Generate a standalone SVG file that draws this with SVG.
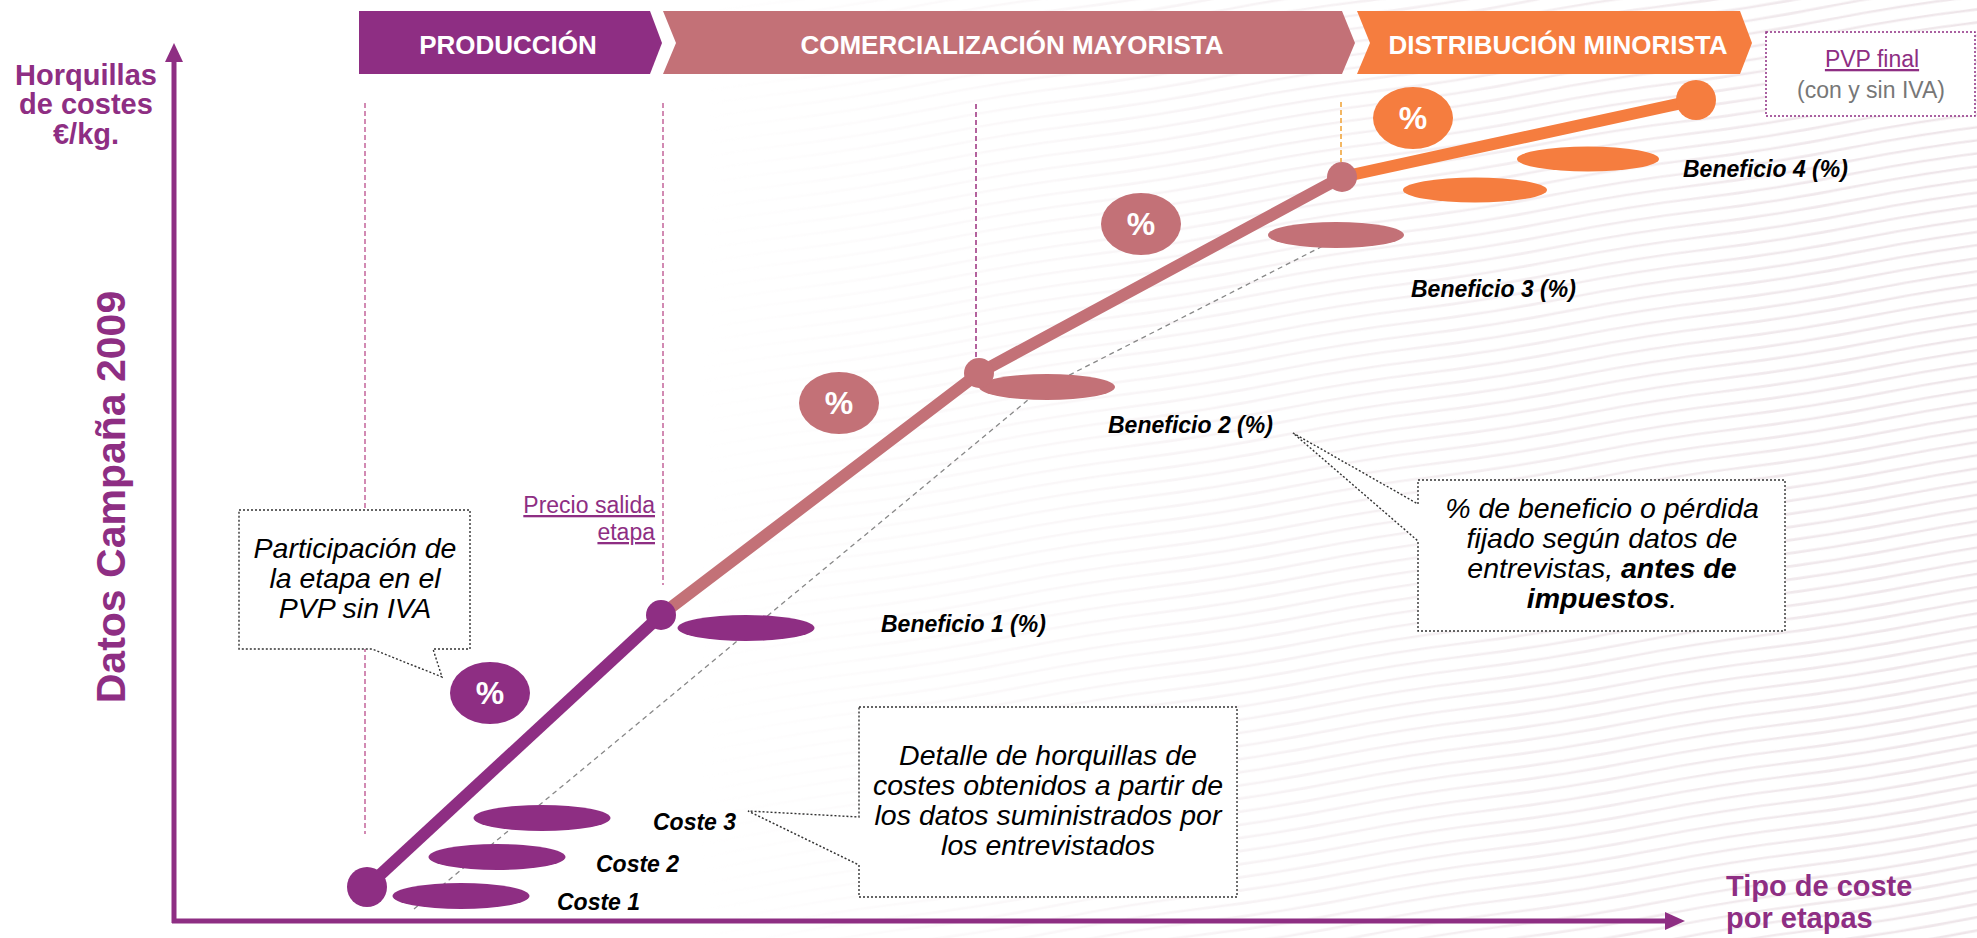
<svg xmlns="http://www.w3.org/2000/svg" width="1977" height="938" viewBox="0 0 1977 938">
<defs>
<style>
.f{font-family:"Liberation Sans",Arial,sans-serif}
.ban{font-family:"Liberation Sans",Arial,sans-serif;font-weight:bold;font-size:26px;fill:#fff;text-anchor:middle}
.pct{font-family:"Liberation Sans",Arial,sans-serif;font-weight:bold;font-size:32px;fill:#fff;text-anchor:middle}
.lbl{font-family:"Liberation Sans",Arial,sans-serif;font-weight:bold;font-style:italic;font-size:23px;fill:#000}
.call{font-family:"Liberation Sans",Arial,sans-serif;font-style:italic;font-size:28.5px;fill:#000;text-anchor:middle}
.callbox{fill:#fff;stroke:#333;stroke-width:1.4;stroke-dasharray:2 2}
.axis{font-family:"Liberation Sans",Arial,sans-serif;font-weight:bold;fill:#8E2E83}
.guide{fill:none;stroke:#C4649A;stroke-width:1.5;stroke-dasharray:5 3}
.pur{fill:#8E2E83}
.pnk{fill:#C37177}
.org{fill:#F57D3F}
</style>
<pattern id="waves" width="300" height="13" patternUnits="userSpaceOnUse" patternTransform="rotate(-9)">
<path d="M0,6.5 Q75,3.5 150,6.5 T300,6.5" fill="none" stroke="#EEE5E9" stroke-width="2.5"/>
</pattern>
<linearGradient id="fade" x1="0" y1="0" x2="1" y2="0">
<stop offset="0" stop-color="#fff" stop-opacity="0"/>
<stop offset="0.5" stop-color="#fff" stop-opacity="0.55"/>
<stop offset="1" stop-color="#fff" stop-opacity="1"/>
</linearGradient>
<mask id="m"><rect x="700" y="0" width="1277" height="938" fill="url(#fade)"/></mask>
</defs>
<rect width="1977" height="938" fill="#fff"/>
<rect x="700" y="0" width="1277" height="938" fill="url(#waves)" mask="url(#m)"/>

<!-- banners -->
<g id="banner-produccion">
<polygon points="359,11 650,11 662,43 650,74 359,74" class="pur"/>
<text x="508" y="54" class="ban">PRODUCCIÓN</text>
</g>
<g id="banner-comercializacion">
<polygon points="663,11 1342,11 1355,43 1342,74 663,74 676,43" class="pnk"/>
<text x="1012" y="54" class="ban">COMERCIALIZACIÓN MAYORISTA</text>
</g>
<g id="banner-distribucion">
<polygon points="1357,11 1740,11 1752,43 1740,74 1357,74 1370,43" class="org"/>
<text x="1558" y="54" class="ban">DISTRIBUCIÓN MINORISTA</text>
</g>
<g id="pvp-final">
<rect x="1766" y="32" width="209" height="84" fill="#fff" stroke="#8E2E83" stroke-width="1.5" stroke-dasharray="2 2"/>
<text x="1872" y="67" class="f" font-size="23" fill="#8E2E83" text-anchor="middle" text-decoration="underline">PVP final</text>
<text x="1871" y="98" class="f" font-size="23" fill="#777" text-anchor="middle">(con y sin IVA)</text>
</g>

<!-- axes -->
<g id="axes">
<line x1="174" y1="923" x2="174" y2="60" stroke="#8E2E83" stroke-width="5"/>
<polygon points="174,43 165,62 183,62" class="pur"/>
<line x1="172" y1="921" x2="1667" y2="921" stroke="#8E2E83" stroke-width="5"/>
<polygon points="1685,921 1665,912 1665,930" class="pur"/>
<text class="axis" font-size="29" text-anchor="middle"><tspan x="86" y="85">Horquillas</tspan><tspan x="86" y="114">de costes</tspan><tspan x="86" y="144">€/kg.</tspan></text>
<text class="axis" font-size="41" text-anchor="middle" transform="translate(125,497) rotate(-90)">Datos Campaña 2009</text>
<text class="axis" font-size="29"><tspan x="1726" y="896">Tipo de coste</tspan><tspan x="1726" y="928">por etapas</tspan></text>
</g>

<!-- connectors -->
<g id="connectors">
<line x1="365" y1="103" x2="365" y2="834" class="guide"/>
<line x1="663" y1="103" x2="663" y2="585" class="guide"/>
<line x1="976" y1="104" x2="976" y2="360" fill="none" stroke="#9B2F7E" stroke-width="1.5" stroke-dasharray="5 3"/>
<line x1="1341" y1="102" x2="1341" y2="162" fill="none" stroke="#F0A030" stroke-width="1.5" stroke-dasharray="5 3"/>
<polyline points="414,909 1040,390 1321,247 1336,240" fill="none" stroke="#888" stroke-width="1.3" stroke-dasharray="5 4"/>
<line x1="367" y1="887" x2="661" y2="615" stroke="#8E2E83" stroke-width="12"/>
<polyline points="661,615 979,373 1342,177" fill="none" stroke="#C37177" stroke-width="12" stroke-linejoin="round"/>
<line x1="1342" y1="177" x2="1696" y2="100" stroke="#F57D3F" stroke-width="12"/>
</g>

<!-- cost / benefit ellipses -->
<g id="coste-1"><ellipse cx="461" cy="896" rx="68.5" ry="13" class="pur"/><text x="557" y="910" class="lbl">Coste 1</text></g>
<g id="coste-2"><ellipse cx="497" cy="857" rx="68.5" ry="13" class="pur"/><text x="596" y="872" class="lbl">Coste 2</text></g>
<g id="coste-3"><ellipse cx="542" cy="818" rx="68.5" ry="13" class="pur"/><text x="653" y="830" class="lbl">Coste 3</text></g>
<g id="beneficio-1"><ellipse cx="746" cy="628" rx="68.5" ry="13" class="pur"/><text x="881" y="632" class="lbl">Beneficio 1 (%)</text></g>
<g id="beneficio-2"><ellipse cx="1047" cy="387" rx="68" ry="13" class="pnk"/><text x="1108" y="433" class="lbl">Beneficio 2 (%)</text></g>
<g id="beneficio-3"><ellipse cx="1336" cy="235" rx="68" ry="13" class="pnk"/><text x="1411" y="297" class="lbl">Beneficio 3 (%)</text></g>
<g id="beneficio-4"><ellipse cx="1475" cy="190" rx="72" ry="12.5" class="org"/><ellipse cx="1588" cy="159" rx="71" ry="12.5" class="org"/><text x="1683" y="177" class="lbl">Beneficio 4 (%)</text></g>

<!-- nodes -->
<g id="node-origen"><circle cx="367" cy="887" r="20" class="pur"/></g>
<g id="node-produccion"><circle cx="661" cy="615" r="15" class="pur"/></g>
<g id="node-mayorista"><circle cx="979" cy="373" r="15" class="pnk"/></g>
<g id="node-mayorista-fin"><circle cx="1342" cy="177" r="15" class="pnk"/></g>
<g id="node-pvp"><circle cx="1696" cy="100" r="20" class="org"/></g>

<!-- percent bubbles -->
<g id="pct-1"><ellipse cx="490" cy="693" rx="40" ry="31" class="pur"/><text x="490" y="704" class="pct">%</text></g>
<g id="pct-2"><ellipse cx="839" cy="403" rx="40" ry="31" class="pnk"/><text x="839" y="414" class="pct">%</text></g>
<g id="pct-3"><ellipse cx="1141" cy="224" rx="40" ry="31" class="pnk"/><text x="1141" y="235" class="pct">%</text></g>
<g id="pct-4"><ellipse cx="1413" cy="118" rx="40" ry="31" class="org"/><text x="1413" y="129" class="pct">%</text></g>

<g id="precio-salida">
<text class="f" font-size="23" fill="#8E2E83" text-anchor="end" text-decoration="underline"><tspan x="655" y="513">Precio salida</tspan><tspan x="655" y="540">etapa</tspan></text>
</g>

<!-- callouts -->
<g id="callout-participacion">
<path d="M239,510 H470 V649 H433 L442,677 L372,649 H239 Z" class="callbox"/>
<text class="call"><tspan x="355" y="558">Participación de</tspan><tspan x="355" y="588">la etapa en el</tspan><tspan x="355" y="618">PVP sin IVA</tspan></text>
</g>
<g id="callout-detalle">
<path d="M859,707 H1237 V897 H859 V865 L748,811 L859,817 Z" class="callbox"/>
<text class="call"><tspan x="1048" y="765">Detalle de horquillas de</tspan><tspan x="1048" y="795">costes obtenidos a partir de</tspan><tspan x="1048" y="825">los datos suministrados por</tspan><tspan x="1048" y="855">los entrevistados</tspan></text>
</g>
<g id="callout-beneficio">
<path d="M1418,480 H1785 V631 H1418 V541 L1293,433 L1418,504 Z" class="callbox"/>
<text class="call"><tspan x="1602" y="518">% de beneficio o pérdida</tspan><tspan x="1602" y="548">fijado según datos de</tspan><tspan x="1602" y="578">entrevistas, <tspan font-weight="bold">antes de</tspan></tspan><tspan x="1602" y="608"><tspan font-weight="bold">impuestos</tspan>.</tspan></text>
</g>
</svg>
